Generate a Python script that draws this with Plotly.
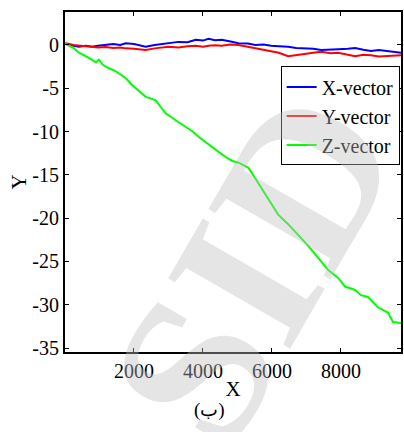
import plotly.graph_objects as go

# ---- data ----
xy_x = [0, 30, 250, 400, 600, 780, 950, 1180, 1400, 1600, 1760, 2000, 2200, 2340, 2600,
        3000, 3290, 3550, 3790, 4000, 4160, 4350, 4540, 4800, 5030, 5300, 5520, 5750, 5980,
        6200, 6470, 6700, 6960, 7200, 7430, 7700, 7920, 8200, 8410, 8650, 8870, 9100, 9360,
        9550, 9740]

x_vector = [0.2, 0.1, -0.1, -0.2, -0.1, -0.2, -0.1, 0.0, 0.1, 0.0, 0.2, 0.1, -0.1, -0.2, 0.0,
            0.2, 0.35, 0.3, 0.6, 0.5, 0.7, 0.55, 0.6, 0.4, 0.2, 0.15, 0.0, 0.05, -0.1,
            -0.15, -0.2, -0.35, -0.4, -0.45, -0.6, -0.5, -0.5, -0.45, -0.35, -0.55, -0.7, -0.6, -0.7,
            -0.75, -0.9]

y_vector = [0.2, 0.2, 0.0, -0.1, -0.15, -0.2, -0.3, -0.25, -0.35, -0.3, -0.4, -0.45, -0.55, -0.6, -0.4,
            -0.2, -0.3, -0.15, -0.1, -0.2, -0.1, -0.05, -0.1, 0.05, 0.0, -0.2, -0.35, -0.5, -0.7,
            -0.9, -1.3, -1.15, -1.0, -0.9, -0.8, -0.95, -0.9, -1.1, -1.3, -1.15, -1.2, -1.35, -1.3,
            -1.25, -1.2]

z_x = [0, 30, 260, 405, 694, 896, 983, 1098, 1272, 1450, 1647, 1800, 1936, 2150, 2341, 2500,
       2630, 2780, 2919, 3208, 3497, 3700, 3873, 4100, 4310, 4500, 4680, 4850, 5030, 5200,
       5320, 5450, 5610, 5890, 6180, 6470, 6760, 7050, 7340, 7630, 7920, 8120, 8410, 8580,
       8780, 9070, 9360, 9510, 9740]

z_vector = [0.3, 0.1, -0.4, -0.9, -1.5, -2.0, -1.7, -2.3, -2.7, -3.0, -3.5, -4.0, -4.6, -5.3, -6.0, -6.2,
            -6.4, -7.2, -7.9, -8.7, -9.5, -10.0, -10.6, -11.3, -12.0, -12.5, -13.0, -13.4, -13.6, -13.9,
            -14.2, -15.0, -16.0, -17.8, -19.6, -20.7, -21.9, -23.2, -24.6, -26.0, -26.9, -27.9, -28.3, -28.9,
            -29.1, -30.3, -30.9, -32.0, -32.1]

series_names = ["X-vector", "Y-vector", "Z-vector"]
series_colors = ["#0000FF", "#FF0000", "#00FF00"]

y_tickvals = [0, -5, -10, -15, -20, -25, -30, -35]
y_ticktext = ["0", "-5", "-10", "-15", "-20", "-25", "-30", "-35"]
x_tickvals = [2000, 4000, 6000, 8000]
x_ticktext = ["2000", "4000", "6000", "8000"]

FONT = "Liberation Serif"

fig = go.Figure()
for name, color, xs, ys in zip(series_names, series_colors,
                               [xy_x, xy_x, z_x], [x_vector, y_vector, z_vector]):
    fig.add_trace(go.Scatter(x=xs, y=ys, mode="lines", name=name,
                             line=dict(color=color, width=2)))

axis_common = dict(showline=True, linecolor="black", linewidth=2, mirror="ticks",
                   ticks="inside", ticklen=4, tickcolor="black", tickwidth=1,
                   showgrid=False, zeroline=False,
                   tickfont=dict(family=FONT, size=20, color="black"))

fig.update_xaxes(range=[0, 9740], tickvals=x_tickvals, ticktext=x_ticktext,
                 title=dict(text="X", font=dict(family=FONT, size=21, color="black"), standoff=0),
                 **axis_common)
fig.update_yaxes(range=[-35.46, 3.8], tickvals=y_tickvals, ticktext=y_ticktext,
                 title=dict(text="Y", font=dict(family=FONT, size=21, color="black"), standoff=0),
                 **axis_common)

fig.update_layout(
    width=404, height=432,
    margin=dict(l=65, r=1, t=12, b=80),
    font=dict(family=FONT, color="black"),
    paper_bgcolor="white", plot_bgcolor="white",
    showlegend=True,
    legend=dict(x=0.996, y=0.84, xanchor="right", yanchor="top",
                bordercolor="black", borderwidth=1, bgcolor="white",
                font=dict(family=FONT, size=20, color="black"),
                tracegroupgap=0, itemwidth=30),
    annotations=[
        dict(text="<b>SID</b>", xref="paper", yref="paper", x=0.56, y=0.25,
             xanchor="center", yanchor="middle", showarrow=False, textangle=-60,
             font=dict(family=FONT, size=215, color="rgba(190,190,190,0.4)")),
        dict(text="(ب)", xref="paper", yref="paper", x=0.43, y=-0.17,
             xanchor="center", yanchor="middle", showarrow=False,
             font=dict(family=FONT, size=19, color="black")),
    ],
)

fig.write_html("out.html", config={"displayModeBar": False},
               post_script="document.body.style.margin='0';document.body.style.overflow='hidden';")
